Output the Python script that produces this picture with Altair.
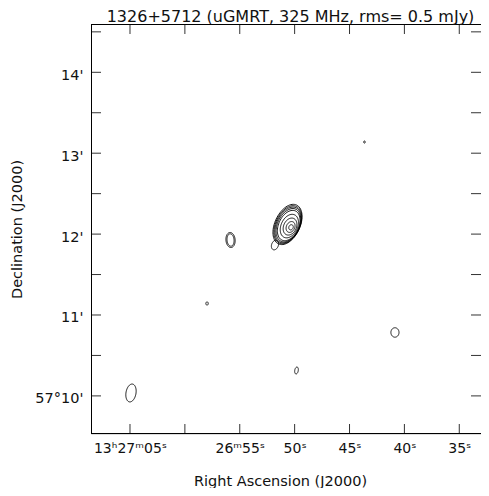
import math
import altair as alt
import numpy as np
import pandas as pd

TITLE = "1326+5712 (uGMRT, 325 MHz, rms= 0.5 mJy)"
X_TITLE = "Right Ascension (J2000)"
Y_TITLE = "Declination (J2000)"

# RA in seconds of time after 13h26m00s ; Dec in arcmin after +57d00'
RA_LEFT = 68.553
RA_PER_PX = 1 / 10.976
DEC_RANGE = [9.529, 14.597]
RA_TICKS = [65, 60, 55, 50, 45, 40, 35]
RA_LABELS = ["13ʰ27ᵐ05ˢ", "", "26ᵐ55ˢ", "50ˢ", "45ˢ", "40ˢ", "35ˢ"]
DEC_TICKS = [10, 10.5, 11, 11.5, 12, 12.5, 13, 13.5, 14, 14.5]
DEC_LABEL_VALUES = [10, 11, 12, 13, 14]
DEC_LABELS = ["57°10'", "11'", "12'", "13'", "14'"]
DEC0_DEG = 57.2

# One entry per closed contour (elliptical approximation read from the map)
C_RA = [50.650, 50.625, 50.600, 50.572, 50.540, 50.480, 50.420, 50.370, 50.330,
        51.79, 55.84, 55.84, 64.91, 40.86, 43.64, 57.98, 49.83]
C_DEC = [12.119, 12.116, 12.113, 12.110, 12.106, 12.099, 12.093, 12.088, 12.084,
         11.865, 11.927, 11.927, 10.036, 10.784, 13.138, 11.142, 10.314]
C_MAJ = [15.9, 15.0, 14.1, 13.1, 11.9, 9.2, 6.6, 4.2, 2.0,
         3.7, 5.6, 4.6, 6.7, 3.5, 0.8, 1.2, 2.6]   # arcsec
C_MIN = [9.3, 8.9, 8.5, 8.0, 7.4, 6.1, 4.7, 3.1, 1.6,
         2.5, 3.4, 2.6, 3.7, 3.0, 0.6, 0.9, 1.3]    # arcsec
C_PA = [335, 335, 335, 335, 335, 335, 335, 335, 335,
        340, 5, 5, 350, 0, 0, 0, 350]               # deg E of N

rows = []
cosd = math.cos(math.radians(DEC0_DEG))
for k in range(len(C_RA)):
    phi = math.radians(C_PA[k])
    for i, t in enumerate(np.linspace(0, 2 * math.pi, 73)):
        u = C_MAJ[k] * math.cos(t)
        v = C_MIN[k] * math.sin(t)
        east = u * math.sin(phi) + v * math.cos(phi)
        north = u * math.cos(phi) - v * math.sin(phi)
        rows.append({"cid": k, "i": i,
                     "ra": C_RA[k] + east / (15 * cosd),
                     "dec": C_DEC[k] + north / 60.0})
df = pd.DataFrame(rows)

W, H = 390, 410
FONT = "DejaVu Sans"
INK = "#111111"
RA_RANGE = [RA_LEFT, RA_LEFT - W * RA_PER_PX]


def expr_for(values, labels):
    e = "''"
    for v, lab in reversed(list(zip(values, labels))):
        e = f'abs(datum.value - {v}) < 0.01 ? "{lab}" : ({e})'
    return e


x_scale = alt.Scale(domain=RA_RANGE, nice=False, zero=False)
y_scale = alt.Scale(domain=DEC_RANGE, nice=False, zero=False)

x_axis = alt.Axis(values=RA_TICKS, labelExpr=expr_for(RA_TICKS, RA_LABELS),
                  ticks=False, domain=False, grid=False, title=X_TITLE,
                  titleFont=FONT, titleFontSize=14.5, titleFontWeight="normal",
                  titleColor=INK, titleX=189, titleY=51, titleBaseline="alphabetic",
                  titleAlign="center",
                  labelFont=FONT, labelFontSize=14, labelColor=INK, labelPadding=7,
                  labelBaseline="top", labelOverlap=False, labelFlush=False)
y_axis = alt.Axis(values=DEC_LABEL_VALUES, labelExpr=expr_for(DEC_LABEL_VALUES, DEC_LABELS),
                  ticks=False, domain=False, grid=False, title=Y_TITLE,
                  titleFont=FONT, titleFontSize=14.5, titleFontWeight="normal",
                  titleColor=INK, titleAngle=270, titleX=-74, titleY=H / 2,
                  titleBaseline="middle", titleAlign="center",
                  labelFont=FONT, labelFontSize=14.5, labelColor=INK, labelPadding=8,
                  labelAlign="right", labelBaseline="middle", labelOffset=3,
                  labelOverlap=False, labelFlush=False)

contours = alt.Chart(df).mark_line(color="black", strokeWidth=0.9, clip=True).encode(
    x=alt.X("ra:Q", scale=x_scale, axis=x_axis),
    y=alt.Y("dec:Q", scale=y_scale, axis=y_axis),
    detail="cid:N",
    order="i:Q",
)

TICK = 10
xt = pd.DataFrame({"v": RA_TICKS})
yt = pd.DataFrame({"v": DEC_TICKS})
tick_style = dict(color="#333333", strokeWidth=1)
top_ticks = alt.Chart(xt).mark_rule(**tick_style).encode(
    x=alt.X("v:Q", scale=x_scale, axis=x_axis), y=alt.value(0), y2=alt.value(TICK))
bot_ticks = alt.Chart(xt).mark_rule(**tick_style).encode(
    x=alt.X("v:Q", scale=x_scale, axis=x_axis), y=alt.value(H), y2=alt.value(H - TICK))
left_ticks = alt.Chart(yt).mark_rule(**tick_style).encode(
    y=alt.Y("v:Q", scale=y_scale, axis=y_axis), x=alt.value(0), x2=alt.value(TICK))
right_ticks = alt.Chart(yt).mark_rule(**tick_style).encode(
    y=alt.Y("v:Q", scale=y_scale, axis=y_axis), x=alt.value(W), x2=alt.value(W - TICK))

one = pd.DataFrame({"a": [0]})
frame_style = dict(color="black", strokeWidth=1)
left_line = alt.Chart(one).mark_rule(**frame_style).encode(
    x=alt.value(0.5), y=alt.value(0), y2=alt.value(H))
top_line = alt.Chart(one).mark_rule(**frame_style).encode(
    x=alt.value(0), x2=alt.value(W), y=alt.value(0.5))
bot_line = alt.Chart(one).mark_rule(**frame_style).encode(
    x=alt.value(0), x2=alt.value(W), y=alt.value(H - 0.5))
title_text = alt.Chart(one).mark_text(
    text=TITLE, font=FONT, fontSize=16, color=INK, align="center",
    baseline="alphabetic").encode(x=alt.value(199.5), y=alt.value(-2.5))

chart = alt.layer(
    contours, top_ticks, bot_ticks, left_ticks, right_ticks,
    left_line, top_line, bot_line, title_text
).properties(
    width=W, height=H,
    autosize=alt.AutoSizeParams(type="none"),
    padding={"left": 83, "top": 16, "right": 0, "bottom": 54},
).configure_view(stroke=None).configure(background="white")

chart.save("out.html", embed_options={"renderer": "svg", "actions": False})
